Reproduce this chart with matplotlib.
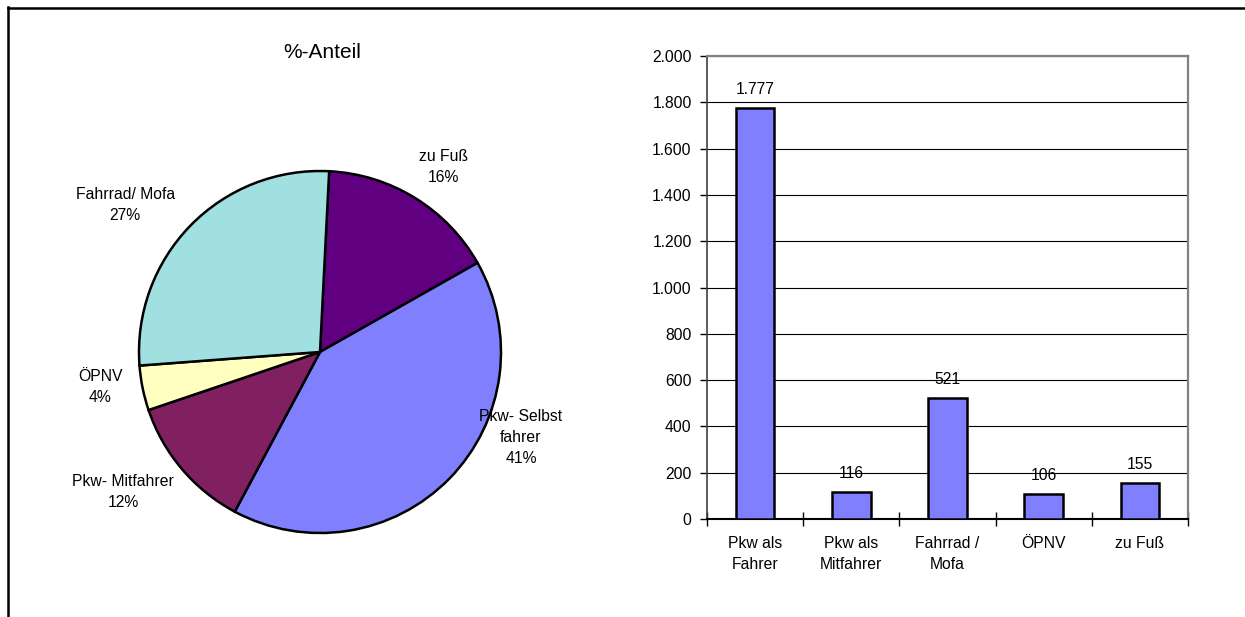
import matplotlib
matplotlib.use("Agg")
import matplotlib.pyplot as plt
from matplotlib.lines import Line2D

plt.rcParams['font.family'] = ['Liberation Sans', 'DejaVu Sans']

# ---- data ----
pie_title = "%-Anteil"
pie_labels = ["zu Fuß", "Pkw- Selbst\nfahrer", "Pkw- Mitfahrer", "ÖPNV", "Fahrrad/ Mofa"]
pie_shares = [16, 41, 12, 4, 27]
pie_colors = ["#600080", "#8080FF", "#802060", "#FFFFC0", "#A0E0E0"]

bar_categories = ["Pkw als\nFahrer", "Pkw als\nMitfahrer", "Fahrrad /\nMofa", "ÖPNV", "zu Fuß"]
bar_values = [1777, 116, 521, 106, 155]
y_ticks = [0, 200, 400, 600, 800, 1000, 1200, 1400, 1600, 1800, 2000]

W, H = 1245, 617
fig = plt.figure(figsize=(W / 100, H / 100), dpi=100)
fig.patch.set_facecolor("white")


def de(v):
    return f"{v:,.0f}".replace(",", ".")


# ---- frame ----
fig.add_artist(Line2D([8 / W, 1.0], [1 - 7.5 / H, 1 - 7.5 / H], color="black", lw=1.8,
                      transform=fig.transFigure))
fig.add_artist(Line2D([8 / W, 8 / W], [1 - 7 / H, 0], color="black", lw=1.8,
                      transform=fig.transFigure))

# ---- pie ----
cx, cy, r = 320, 352, 181
axp = fig.add_axes([(cx - r) / W, (H - cy - r) / H, 2 * r / W, 2 * r / H])
axp.pie(pie_shares, colors=pie_colors, startangle=87.1, counterclock=False, radius=1,
        wedgeprops=dict(edgecolor="black", linewidth=1.8))
axp.set_xlim(-1, 1)
axp.set_ylim(-1, 1)
axp.set_aspect("equal")
axp.axis("off")

label_pos = [(0.68, 1.02), (1.11, -0.47), (-1.088, -0.773), (-1.215, -0.196), (-1.077, 0.812)]
for lab, sh, (lx, ly) in zip(pie_labels, pie_shares, label_pos):
    axp.text(lx, ly, f"{lab}\n{sh}%", ha="center", va="center", fontsize=11.3,
             linespacing=1.5, color="black", clip_on=False)

fig.text(322 / W, 1 - 52 / H, pie_title, ha="center", va="center", fontsize=15)

# ---- bar ----
left, right, top, bottom = 707, 1188, 56, 519
axb = fig.add_axes([left / W, (H - bottom) / H, (right - left) / W, (bottom - top) / H])
x = list(range(len(bar_values)))
axb.bar(x, bar_values, width=0.4, color="#8080FF", edgecolor="black", linewidth=1.8, zorder=3)
axb.set_xlim(-0.5, len(bar_values) - 0.5)
axb.set_ylim(0, 2000)
axb.set_yticks(y_ticks)
axb.set_yticklabels([de(v) for v in y_ticks], fontsize=11.3)
axb.yaxis.grid(True, color="black", linewidth=0.8, zorder=0)
axb.set_axisbelow(True)
axb.tick_params(axis="y", direction="out", length=5, width=1, pad=6)

axb.set_xticks([i - 0.5 for i in range(len(bar_values) + 1)])
axb.set_xticklabels([])
axb.tick_params(axis="x", which="major", direction="inout", length=10, width=1)
axb.set_xticks(x, minor=True)
axb.set_xticklabels(bar_categories, minor=True, fontsize=11.3, linespacing=1.5)
axb.tick_params(axis="x", which="minor", length=0, pad=12)

for sp in ("top", "right"):
    axb.spines[sp].set_color("#808080")
    axb.spines[sp].set_linewidth(1.6)
axb.spines["left"].set_color("#404040")
axb.spines["left"].set_linewidth(1.2)
axb.spines["bottom"].set_color("black")
axb.spines["bottom"].set_linewidth(1.5)

for xi, v in zip(x, bar_values):
    axb.annotate(de(v), (xi, v), xytext=(0, 8), textcoords="offset points",
                 ha="center", va="bottom", fontsize=11.3)

fig.savefig("out.png", dpi=100, facecolor="white")
